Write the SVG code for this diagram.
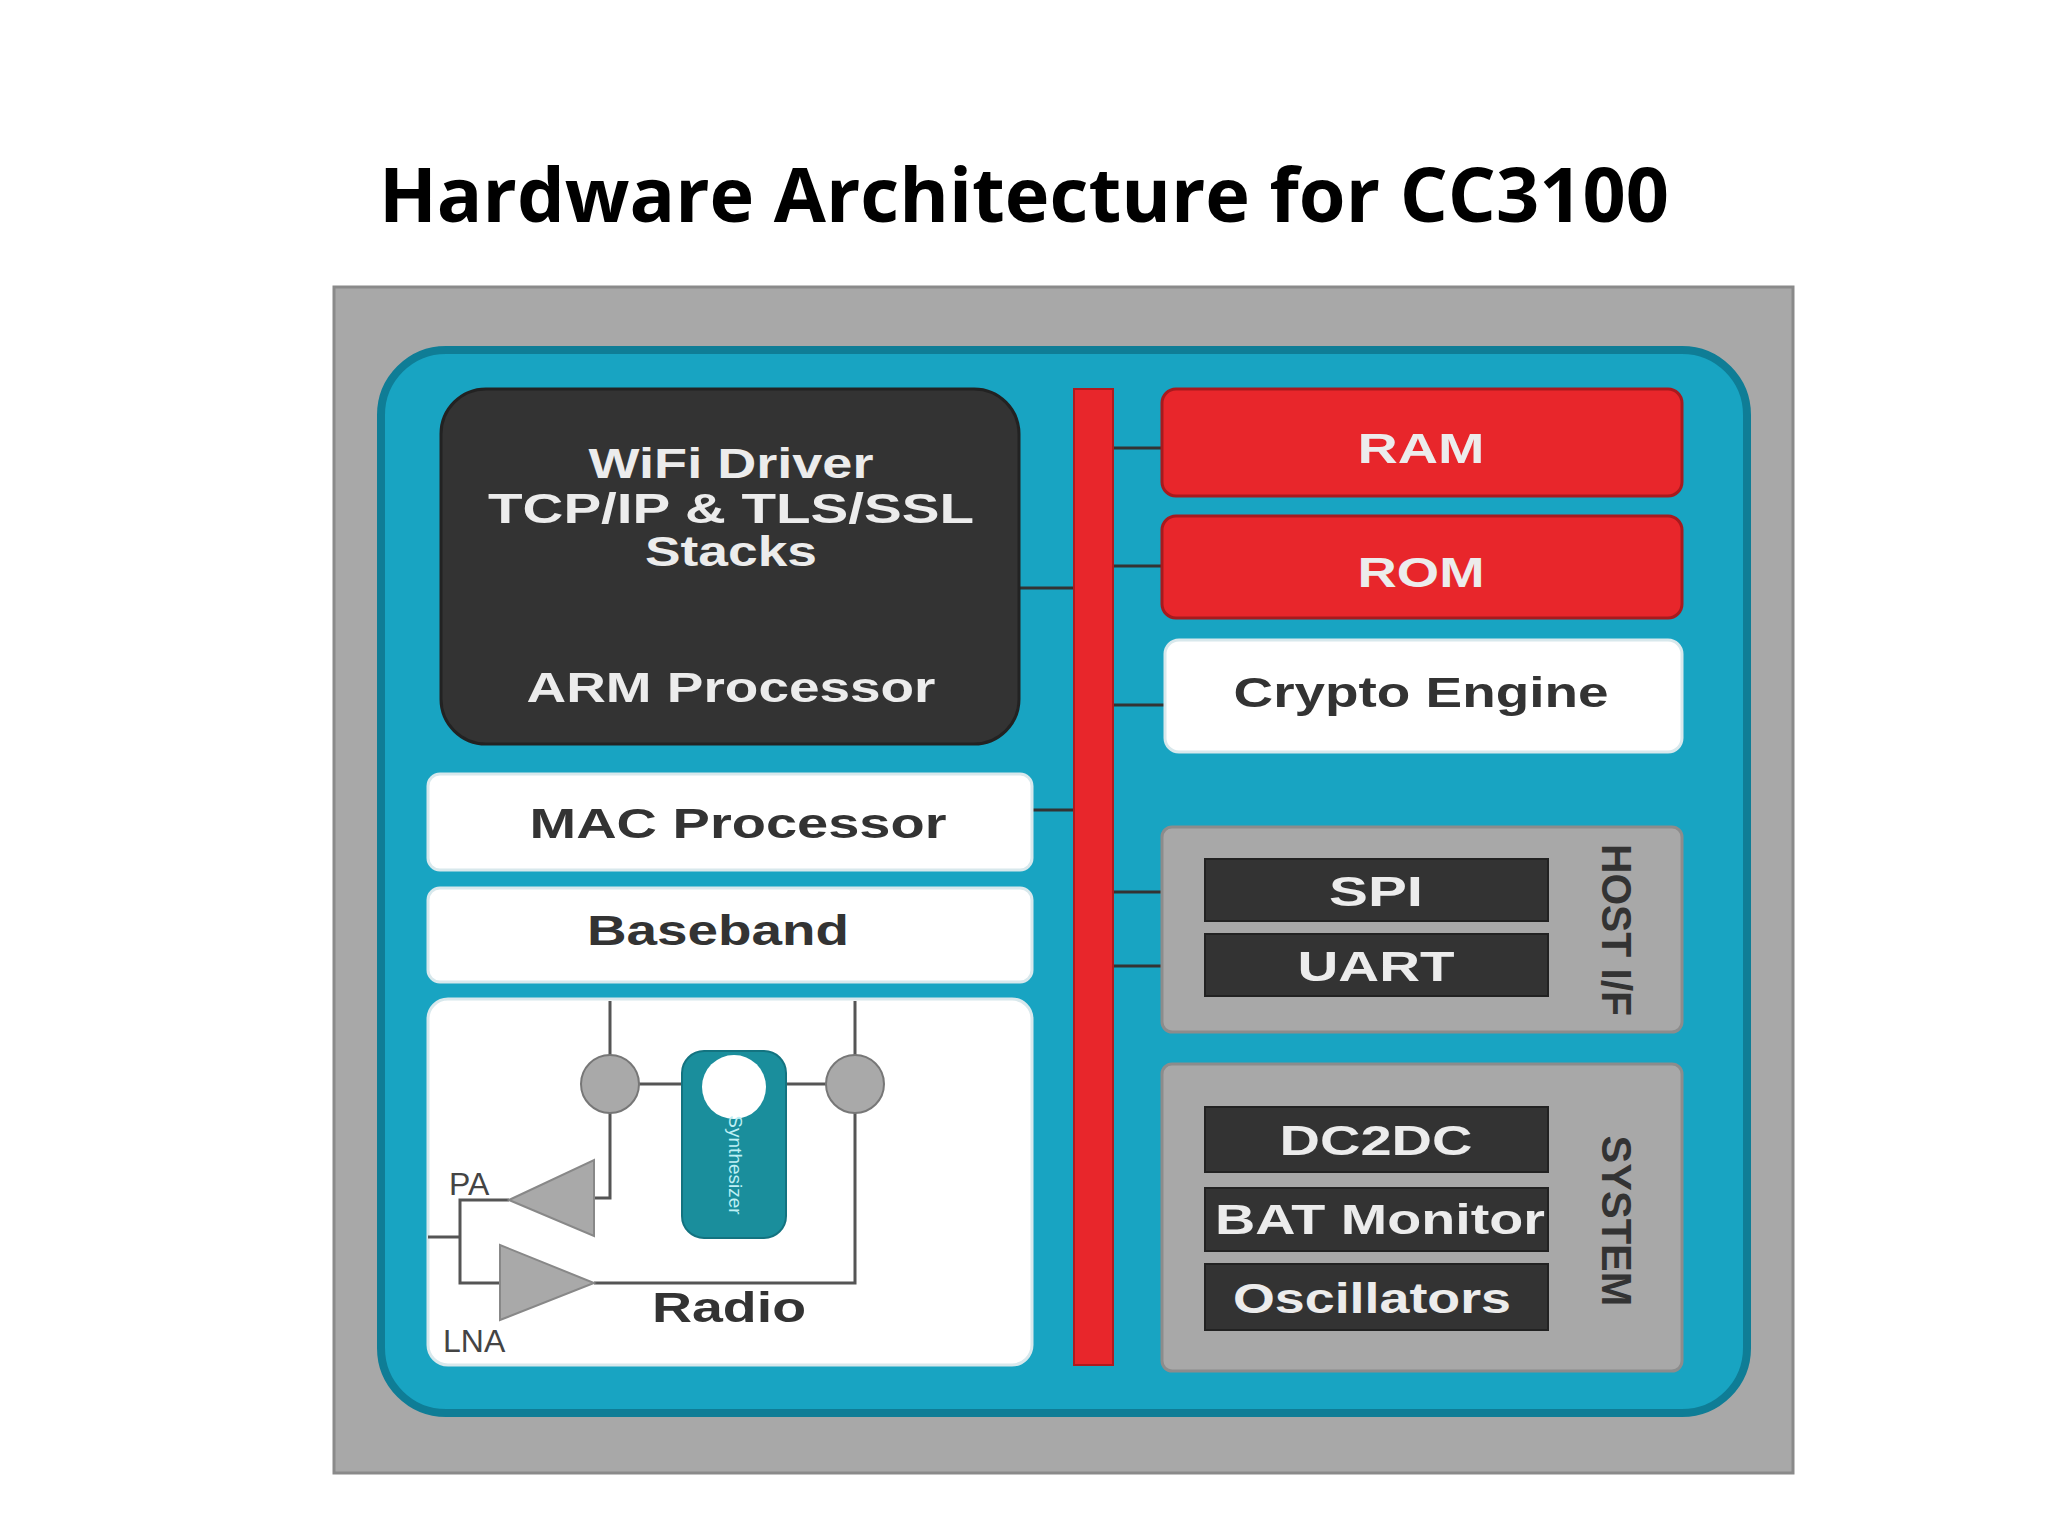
<svg xmlns="http://www.w3.org/2000/svg" width="2048" height="1536" viewBox="0 0 2048 1536">
<style>
.t{font-family:"Liberation Sans",Arial,sans-serif;font-weight:bold;font-size:42px;text-anchor:middle}
.lt{fill:#ececec}.dk{fill:#333}
.w{fill:#fff;stroke:#d8e8ec;stroke-width:3}
.db{fill:#333;stroke:#222;stroke-width:2}
.ln{stroke:#333;stroke-width:3;fill:none}
.rl{stroke:#555;stroke-width:3;fill:none}
.gc{fill:#a9a9a9;stroke:#777;stroke-width:2}
</style>
<rect width="2048" height="1536" fill="#fff"/>
<text x="1024" y="222" font-family="'Open Sans','Liberation Sans',sans-serif" font-weight="bold" font-size="76" text-anchor="middle" textLength="1290" lengthAdjust="spacingAndGlyphs">Hardware Architecture for CC3100</text>
<rect x="334" y="287" width="1459" height="1186" fill="#a8a8a8" stroke="#8a8a8a" stroke-width="3"/>
<rect x="381" y="350" width="1366" height="1063" rx="65" fill="#18a4c2" stroke="#0f7d96" stroke-width="8"/>
<g id="connectors">
<line class="ln" x1="1019" y1="588" x2="1074" y2="588"/>
<line class="ln" x1="1032" y1="810" x2="1074" y2="810"/>
<line class="ln" x1="1113" y1="448" x2="1162" y2="448"/>
<line class="ln" x1="1113" y1="566" x2="1162" y2="566"/>
<line class="ln" x1="1113" y1="705" x2="1165" y2="705"/>
<line class="ln" x1="1113" y1="892" x2="1205" y2="892"/>
<line class="ln" x1="1113" y1="966" x2="1205" y2="966"/>
</g>
<g id="bus"><rect x="1074" y="389" width="39" height="976" fill="#e8262b" stroke="#b01a1e" stroke-width="2"/></g>
<g id="arm">
<rect x="441" y="389" width="578" height="355" rx="45" fill="#333" stroke="#222" stroke-width="3"/>
<text class="t lt" x="731" y="478" textLength="285" lengthAdjust="spacingAndGlyphs">WiFi Driver</text>
<text class="t lt" x="731" y="523" textLength="486" lengthAdjust="spacingAndGlyphs">TCP/IP &amp; TLS/SSL</text>
<text class="t lt" x="731" y="566" textLength="172" lengthAdjust="spacingAndGlyphs">Stacks</text>
<text class="t lt" x="731" y="702" textLength="409" lengthAdjust="spacingAndGlyphs">ARM Processor</text>
</g>
<g id="mac"><rect class="w" x="428" y="774" width="604" height="96" rx="12"/>
<text class="t dk" x="738" y="838" textLength="417" lengthAdjust="spacingAndGlyphs">MAC Processor</text></g>
<g id="baseband"><rect class="w" x="428" y="888" width="604" height="94" rx="12"/>
<text class="t dk" x="718" y="945" textLength="262" lengthAdjust="spacingAndGlyphs">Baseband</text></g>
<g id="radio">
<rect class="w" x="428" y="999" width="604" height="366" rx="20"/>
<polyline class="rl" points="610,1001 610,1198 594,1198"/>
<polyline class="rl" points="855,1001 855,1283 594,1283"/>
<line class="rl" x1="639" y1="1084" x2="682" y2="1084"/>
<line class="rl" x1="786" y1="1084" x2="826" y2="1084"/>
<polyline class="rl" points="509,1200 460,1200 460,1283 500,1283"/>
<line class="rl" x1="428" y1="1237" x2="460" y2="1237"/>
<circle class="gc" cx="610" cy="1084" r="29"/>
<circle class="gc" cx="855" cy="1084" r="29"/>
<polygon points="594,1160 594,1236 509,1200" fill="#a9a9a9" stroke="#888" stroke-width="2"/>
<polygon points="500,1245 500,1320 594,1283" fill="#a9a9a9" stroke="#888" stroke-width="2"/>
<rect x="682" y="1051" width="104" height="187" rx="22" fill="#1a8e9c" stroke="#137380" stroke-width="2"/>
<circle cx="734" cy="1087" r="32" fill="#fff"/>
<text x="734" y="1165" transform="rotate(90 734 1165)" font-family="'Liberation Sans',Arial,sans-serif" font-size="19" fill="#bff0f5" text-anchor="middle" dominant-baseline="middle">Synthesizer</text>
<text x="449" y="1195" font-family="'Liberation Sans',Arial,sans-serif" font-size="32" fill="#444">PA</text>
<text x="443" y="1352" font-family="'Liberation Sans',Arial,sans-serif" font-size="32" fill="#444">LNA</text>
<text class="t dk" x="729" y="1322" textLength="154" lengthAdjust="spacingAndGlyphs">Radio</text>
</g>
<g id="ram"><rect x="1162" y="389" width="520" height="107" rx="14" fill="#e8262b" stroke="#a81a1e" stroke-width="3"/>
<text class="t lt" x="1421" y="463" textLength="127" lengthAdjust="spacingAndGlyphs">RAM</text></g>
<g id="rom"><rect x="1162" y="516" width="520" height="102" rx="14" fill="#e8262b" stroke="#a81a1e" stroke-width="3"/>
<text class="t lt" x="1421" y="587" textLength="127" lengthAdjust="spacingAndGlyphs">ROM</text></g>
<g id="crypto"><rect class="w" x="1165" y="640" width="517" height="112" rx="14"/>
<text class="t dk" x="1421" y="707" textLength="375" lengthAdjust="spacingAndGlyphs">Crypto Engine</text></g>
<g id="hostif">
<rect x="1162" y="827" width="520" height="205" rx="10" fill="#a8a8a8" stroke="#8c8c8c" stroke-width="3"/>
<rect class="db" x="1205" y="859" width="343" height="62"/>
<text class="t lt" x="1376" y="906" textLength="94" lengthAdjust="spacingAndGlyphs">SPI</text>
<rect class="db" x="1205" y="934" width="343" height="62"/>
<text class="t lt" x="1376" y="981" textLength="157" lengthAdjust="spacingAndGlyphs">UART</text>
<text class="t dk" x="1613" y="930" transform="rotate(90 1613 930)" dominant-baseline="middle" textLength="172" lengthAdjust="spacingAndGlyphs">HOST I/F</text>
</g>
<g id="system">
<rect x="1162" y="1064" width="520" height="307" rx="10" fill="#a8a8a8" stroke="#8c8c8c" stroke-width="3"/>
<rect class="db" x="1205" y="1107" width="343" height="65"/>
<text class="t lt" x="1376" y="1155" textLength="193" lengthAdjust="spacingAndGlyphs">DC2DC</text>
<rect class="db" x="1205" y="1188" width="343" height="63"/>
<text class="t lt" x="1380" y="1234" textLength="330" lengthAdjust="spacingAndGlyphs">BAT Monitor</text>
<rect class="db" x="1205" y="1264" width="343" height="66"/>
<text class="t lt" x="1372" y="1313" textLength="278" lengthAdjust="spacingAndGlyphs">Oscillators</text>
<text class="t dk" x="1613" y="1221" transform="rotate(90 1613 1221)" dominant-baseline="middle" textLength="171" lengthAdjust="spacingAndGlyphs">SYSTEM</text>
</g>
</svg>
